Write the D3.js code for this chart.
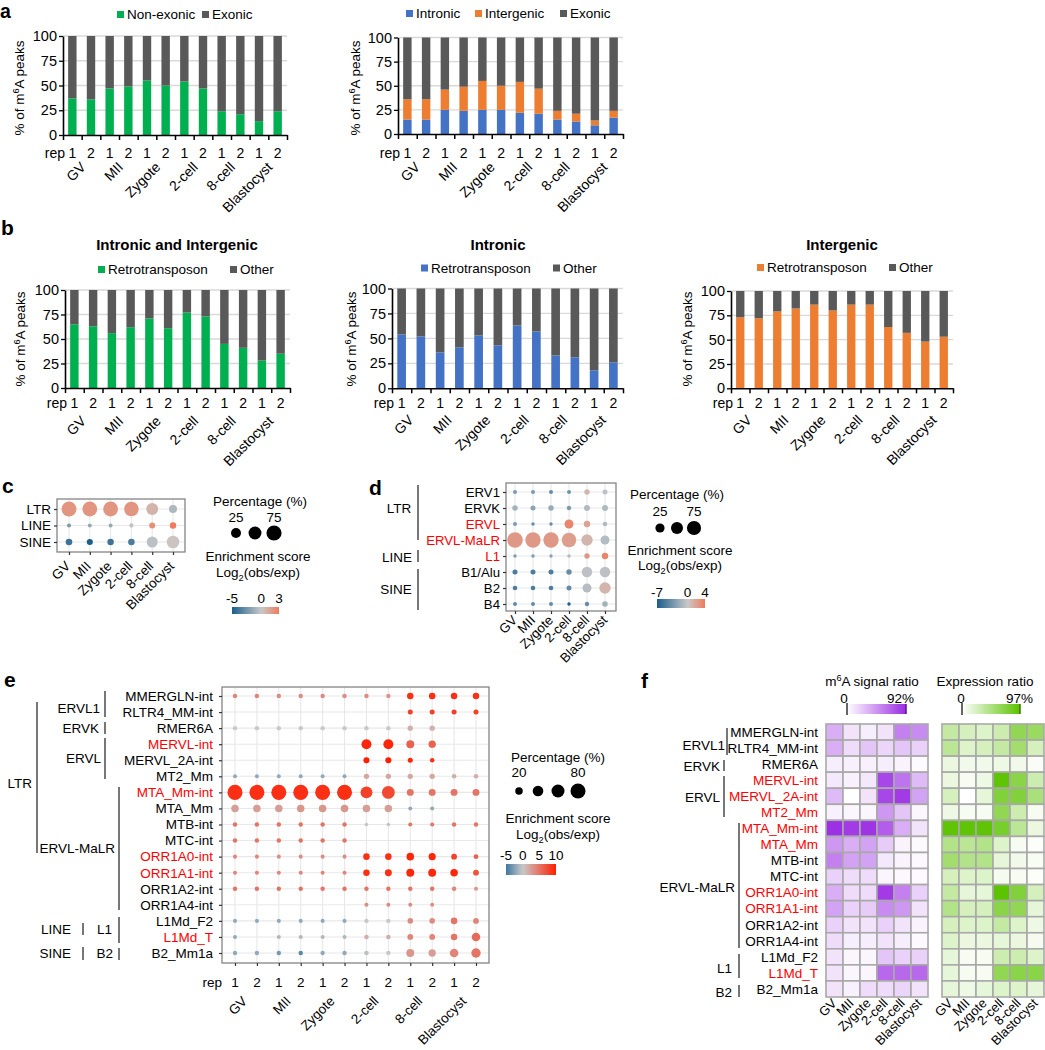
<!DOCTYPE html>
<html><head><meta charset="utf-8">
<script src="https://cdn.jsdelivr.net/npm/d3@7"></script>
<style>body{margin:0;background:#fff;} svg{display:block;}</style>
</head><body>
<svg id="chart" width="1045" height="1050"></svg>
<script>
// ---------------- DATA ----------------
const stages = ["GV","MII","Zygote","2-cell","8-cell","Blastocyst"];
const repLabels = ["1","2"];
const samples = stages.flatMap(s => repLabels.map(r => s + "_" + r));
const yTicks = [0,25,50,75,100];

// panel a
const aNonExonic = [37,36,47,49,55,50,54,47,24,21,14,24];
const aIntronic  = [15,15,25,24,25,25,22,21,15,13,9,17];
const aIntergenic= [21,21,21,25,30,25,32,26,9,8,5,7];
// panel b (retrotransposon %)
const bRetroAll        = [65,63,56,62,71,61,77,73,45,41,28,35];
const bRetroIntronic   = [54,52,36,41,53,43,63,57,33,31,18,26];
const bRetroIntergenic = [73,72,79,82,86,80,86,86,63,57,48,53];

// panel c
const cRows = ["LTR","LINE","SINE"];
const cPct = [[73,71,71,68,41,13],[0.5,0.5,0.5,0.8,4.6,6],[6.6,5,6,6.6,33,47]];
const cEnr = [[2,2,2,2,0.8,-0.8],[-2.2,-1.5,-1.5,-0.3,2.2,3],[-4,-5,-4,-3.6,-0.4,0.2]];

// panel d
const dRows = ["ERV1","ERVK","ERVL","ERVL-MaLR","L1","B1/Alu","B2","B4"];
const dRed = ["ERVL","ERVL-MaLR","L1"];
const dPct = [
  [1.4,1.4,1.4,1.4,4.9,3.7],
  [4.9,3.7,4.9,2.2,7,7],
  [1.4,0.5,0.5,23.5,8.7,2.6],
  [95,90,90,80,44,23.5],
  [0.5,0.5,0.5,0.8,4.9,8.7],
  [3.7,3.7,3.7,4.9,36,36],
  [2.6,2.6,2.6,3.7,23.5,44],
  [1.4,1.4,1.4,0.5,2.2,5.5]];
const dEnr = [
  [-3,-3,-4,-3.5,1,-0.5],
  [-1.5,-2.5,-2,-3,-1,-1],
  [-3,-4,-4,3.5,2,-1],
  [2.5,2.5,2.5,2.2,1,-0.8],
  [-3,-3,-2.5,-1,2.5,3.5],
  [-5,-5,-5,-4,-0.5,-0.5],
  [-5,-5,-5,-4,-0.8,1],
  [-4,-4,-4,-7,-4,-1.5]];

// panel e
const eRows = ["MMERGLN-int","RLTR4_MM-int","RMER6A","MERVL-int","MERVL_2A-int","MT2_Mm",
  "MTA_Mm-int","MTA_Mm","MTB-int","MTC-int","ORR1A0-int","ORR1A1-int","ORR1A2-int","ORR1A4-int",
  "L1Md_F2","L1Md_T","B2_Mm1a"];
const eRed = ["MERVL-int","MTA_Mm-int","ORR1A0-int","ORR1A1-int","L1Md_T"];
const N = null;
const ePct = [
  [7,7,7,7,7,7,7,7,15,15,15,15],
  [N,N,N,N,N,N,N,N,9,9,9,9],
  [7,7,7,7,7,7,7,7,10,10,N,N],
  [N,N,N,N,N,N,35,35,22,19,N,N],
  [N,N,N,N,N,N,13,13,9,7,N,N],
  [5.7,5.7,5.7,5.7,5.7,5.7,10,10,10,10,7.5,7.5],
  [80,80,80,80,80,80,50,58,17,17,17,17],
  [20,20,20,20,20,20,20,20,5.7,5.7,N,N],
  [7,7,7,7,7,7,4.6,4.6,6,6,7,7],
  [7,7,7,7,7,7,N,N,N,N,N,N],
  [5.7,5.7,5.7,5.7,5.7,5.7,15,15,20,18,12,8],
  [5.7,5.7,5.7,5.7,5.7,5.7,15,17,22,22,20,12],
  [7,7,7,7,7,7,7,7,7,7,7,6],
  [N,N,N,N,N,N,5.7,5.7,5.7,5.7,N,N],
  [5.7,5.7,5.7,5.7,5.7,5.7,6.9,6.9,11,11,15,12],
  [5.7,N,5.7,5.7,5.7,5.7,7.5,7.5,12,12,15,26],
  [6.9,6.9,6.9,6.9,6.9,6.9,7.5,7.5,22,19,26,31]];
const eEnr = [
  [4,4,3.5,3.5,3.5,3.5,3.5,3,9,9,9,9],
  [N,N,N,N,N,N,N,N,8,8,8,8],
  [0,0,0,0,0,0,0,0,1.5,1.5,N,N],
  [N,N,N,N,N,N,9.5,9.5,6,6,N,N],
  [N,N,N,N,N,N,10,10,9.5,9,N,N],
  [-2,-2,-2,-2,-2,-2,2,2,2,2,1.5,1.5],
  [9,9,9,9,9,9,8,7.5,5,5,5,5],
  [2.5,2.5,2.5,3,3,3,2.5,2.5,-2,-2,N,N],
  [5,5,5,5,5,5,0.5,0.5,5,5,5,5],
  [5,5,5,5,5,5,N,N,N,N,N,N],
  [4,4,3.5,3.5,3.5,3.5,9,9,9.5,9.5,8,6],
  [4,4,4,4,4,4,9,9,9.5,9.5,9.5,7],
  [5,5,5,5,5,5,5,5,5,5,4,3],
  [N,N,N,N,N,N,3.5,3.5,3.5,3.5,N,N],
  [-2,-2,-2,-2,-2,-2,0,0,3.5,3.5,5,4],
  [-2,N,-1,-1,-1,-1,1.5,1.5,4,4,5,5.5],
  [-2,-2,-3,-4,-2,-2,-0.5,0,3,2.5,4,5]];

// panel f
const fRows = eRows;
const fRed = ["MERVL-int","MERVL_2A-int","MT2_Mm","MTA_Mm-int","MTA_Mm","ORR1A0-int","ORR1A1-int","L1Md_T"];
const fSignal = [
  [35,12,8,12,55,50],[35,15,25,18,25,20],[8,6,6,8,5,2],[10,6,10,80,60,30],[30,0,12,80,85,40],
  [6,4,4,45,25,4],[90,85,88,70,35,12],[45,35,40,22,5,2],[55,40,40,10,5,3],[20,15,15,4,3,2],
  [35,15,15,85,55,20],[40,20,22,50,45,12],[20,12,12,20,12,5],[15,8,8,12,8,3],[12,4,4,25,20,20],
  [12,4,4,65,65,65],[12,6,15,15,18,12]];
const fExpr = [
  [35,25,20,30,65,60],[40,20,25,35,55,25],[12,8,8,10,8,3],[12,5,10,95,70,30],[25,0,15,75,75,50],
  [10,5,5,65,30,5],[95,95,95,80,40,12],[45,40,45,20,5,2],[55,45,45,15,8,4],[25,20,20,6,5,2],
  [35,15,15,97,75,25],[45,25,25,70,65,15],[25,20,20,35,20,10],[20,12,12,15,12,6],[15,5,5,30,30,20],
  [15,5,5,65,70,70],[15,10,15,20,20,15]];

// ---------------- DRAWING ----------------
const FONT = "'Liberation Sans', Arial, Helvetica, sans-serif";
const svg = d3.select("#chart").attr("font-family", FONT);
const GREEN = "#00b050", BLUE = "#4472c4", ORANGE = "#ed7d31", GRAY = "#595959";

function txt(g, x, y, s, o = {}) {
  const t = g.append("text").attr("x", x).attr("y", y).text(s)
    .attr("font-size", o.size || 13).attr("text-anchor", o.anchor || "start")
    .attr("fill", o.fill || "#000");
  if (o.weight) t.attr("font-weight", o.weight);
  if (o.transform) t.attr("transform", o.transform);
  return t;
}
function rich(g, x, y, parts, o = {}) {
  const size = o.size || 13;
  const t = g.append("text").attr("x", x).attr("y", y).attr("font-size", size)
    .attr("text-anchor", o.anchor || "start").attr("fill", "#000");
  if (o.transform) t.attr("transform", o.transform);
  let off = 0;
  parts.forEach(p => {
    if (typeof p === "string") {
      t.append("tspan").attr("dy", -off).text(p); off = 0;
    } else {
      const d = p.sup ? -size * 0.38 : size * 0.28;
      t.append("tspan").attr("dy", d - off).attr("font-size", size * 0.68).text(p.sup || p.sub);
      off = d;
    }
  });
  return t;
}
function bracket(g, x, y1, y2) {
  g.append("line").attr("x1", x).attr("x2", x).attr("y1", y1).attr("y2", y2)
    .attr("stroke", "#555").attr("stroke-width", 1.6);
}
const root = svg.append("g");

// panel letters
[["a",0,17.5,19.5],["b",1,235,21],["c",2,493,21],["d",369,495,21],["e",4,687,21],["f",641,688,21]].forEach(([l,x,y,s]) =>
  txt(root, x, y, l, {size: s, weight: "bold"}));

function legend(items, yc) {
  items.forEach(it => {
    root.append("rect").attr("x", it.x).attr("y", yc - 3.5).attr("width", 7).attr("height", 7).attr("fill", it.color);
    txt(root, it.x + 10, yc + 4.7, it.label, {size: 13.5});
  });
}

function barPanel(cfg) {
  const g = root.append("g");
  const x = d3.scaleBand().domain(samples).range([cfg.x0, cfg.x1]).paddingInner(0.55).paddingOuter(0.275);
  const y = d3.scaleLinear().domain([0, 100]).range([cfg.yb, cfg.yt]);
  g.selectAll("line.grid").data(yTicks.filter(d => d > 0)).join("line")
    .attr("x1", cfg.x0).attr("x2", cfg.x1).attr("y1", d => y(d)).attr("y2", d => y(d))
    .attr("stroke", "#d9d9d9").attr("stroke-width", 1.3);
  samples.forEach((s, i) => {
    let acc = 0;
    cfg.stacks.forEach(st => {
      const v = st.vals[i];
      g.append("rect").attr("x", x(s)).attr("width", x.bandwidth())
        .attr("y", y(acc + v)).attr("height", y(acc) - y(acc + v)).attr("fill", st.color);
      acc += v;
    });
    g.append("rect").attr("x", x(s)).attr("width", x.bandwidth())
      .attr("y", y(100)).attr("height", y(acc) - y(100)).attr("fill", GRAY);
  });
  const ya = g.append("g").attr("transform", `translate(${cfg.x0},0)`)
    .call(d3.axisLeft(y).tickValues(yTicks).tickSize(4).tickSizeOuter(0).tickPadding(2));
  ya.attr("font-family", FONT).attr("font-size", 14.5);
  ya.selectAll("line").attr("stroke", "#000").attr("stroke-width", 1.3);
  ya.select(".domain").attr("stroke", "#000").attr("stroke-width", 1.6);
  const xb = d3.scaleLinear().domain([0, 12]).range([cfg.x0, cfg.x1]);
  const xa = g.append("g").attr("transform", `translate(0,${cfg.yb})`)
    .call(d3.axisBottom(xb).tickValues(d3.range(13)).tickSize(5).tickSizeOuter(0).tickFormat(""));
  xa.selectAll("line").attr("stroke", "#000").attr("stroke-width", 1.5);
  xa.select(".domain").attr("stroke", "#000").attr("stroke-width", 1.6);
  samples.forEach((s, i) => txt(g, x(s) + x.bandwidth() / 2, cfg.repY, repLabels[i % 2], {size: 14, anchor: "middle"}));
  txt(g, cfg.x0 + 2, cfg.repY, "rep", {size: 14, anchor: "end"});
  stages.forEach((st, k) => {
    const c = (x(samples[2 * k]) + x(samples[2 * k + 1]) + x.bandwidth()) / 2 + cfg.catDx;
    txt(g, c, cfg.catY, st, {size: 14, anchor: "end", transform: `rotate(-45,${c},${cfg.catY})`});
  });
  rich(g, 0, 0, ["% of m", {sup: "6"}, "A peaks"], {size: 13.5, anchor: "middle",
    transform: `translate(${cfg.ytx},${cfg.ytc}) rotate(-90)`});
  if (cfg.title) txt(g, cfg.titleX, cfg.titleY, cfg.title, {size: 15, weight: "bold", anchor: "middle"});
}

// ---- panel a
barPanel({x0: 63, x1: 287, yt: 36, yb: 135, repY: 158, catY: 168, catDx: 5, ytx: 24, ytc: 88,
  stacks: [{vals: aNonExonic, color: GREEN}]});
legend([{x: 117, label: "Non-exonic", color: GREEN}, {x: 202, label: "Exonic", color: GRAY}], 14.5);
barPanel({x0: 398, x1: 623, yt: 37.5, yb: 134, repY: 158, catY: 168, catDx: 4, ytx: 360, ytc: 88,
  stacks: [{vals: aIntronic, color: BLUE}, {vals: aIntergenic, color: ORANGE}]});
legend([{x: 406, label: "Intronic", color: BLUE}, {x: 475, label: "Intergenic", color: ORANGE}, {x: 560, label: "Exonic", color: GRAY}], 13.5);

// ---- panel b
barPanel({x0: 65, x1: 290, yt: 290, yb: 388, repY: 408, catY: 422, catDx: 3, ytx: 25, ytc: 339,
  stacks: [{vals: bRetroAll, color: GREEN}], title: "Intronic and Intergenic", titleX: 177, titleY: 250});
legend([{x: 98, label: "Retrotransposon", color: GREEN}, {x: 230, label: "Other", color: GRAY}], 269.5);
barPanel({x0: 392, x1: 623, yt: 288.5, yb: 388.3, repY: 408, catY: 421, catDx: 3, ytx: 356, ytc: 339,
  stacks: [{vals: bRetroIntronic, color: BLUE}], title: "Intronic", titleX: 498, titleY: 250});
legend([{x: 421, label: "Retrotransposon", color: BLUE}, {x: 553, label: "Other", color: GRAY}], 268);
barPanel({x0: 731, x1: 953, yt: 291, yb: 388.3, repY: 408, catY: 421, catDx: 3, ytx: 692, ytc: 339,
  stacks: [{vals: bRetroIntergenic, color: ORANGE}], title: "Intergenic", titleX: 842, titleY: 250});
legend([{x: 757, label: "Retrotransposon", color: ORANGE}, {x: 889, label: "Other", color: GRAY}], 267.5);

// ---- dot panels
function dotPanel(cfg) {
  const g = root.append("g");
  const x = d3.scalePoint().domain(cfg.cols).range([cfg.cx0, cfg.cx1]);
  const y = d3.scalePoint().domain(cfg.rows).range([cfg.ry0, cfg.ry1]);
  const [bx0, by0, bx1, by1] = cfg.box;
  g.append("rect").attr("x", bx0).attr("y", by0).attr("width", bx1 - bx0).attr("height", by1 - by0).attr("fill", "#fff");
  g.append("g").selectAll("line").data(cfg.cols).join("line")
    .attr("x1", d => x(d)).attr("x2", d => x(d)).attr("y1", by0).attr("y2", by1)
    .attr("stroke", "#e8e8e8").attr("stroke-width", 1.1);
  g.append("g").selectAll("line").data(cfg.rows).join("line")
    .attr("y1", d => y(d)).attr("y2", d => y(d)).attr("x1", bx0).attr("x2", bx1)
    .attr("stroke", "#e8e8e8").attr("stroke-width", 1.1);
  const cells = [];
  cfg.rows.forEach((r, i) => cfg.cols.forEach((c, j) => {
    const p = cfg.pct[i][j];
    if (p == null) return;
    cells.push({r, c, p, e: cfg.enr[i][j]});
  }));
  g.append("g").selectAll("circle").data(cells).join("circle")
    .attr("cx", d => x(d.c)).attr("cy", d => y(d.r)).attr("r", d => cfg.rScale(d.p))
    .attr("fill", d => cfg.cScale(d.e));
  g.append("rect").attr("x", bx0).attr("y", by0).attr("width", bx1 - bx0).attr("height", by1 - by0)
    .attr("fill", "none").attr("stroke", "#858585").attr("stroke-width", 1.3);
  const ya = g.append("g").attr("transform", `translate(${bx0},0)`)
    .call(d3.axisLeft(y).tickSize(3).tickPadding(cfg.pad || 3));
  ya.select(".domain").remove();
  ya.attr("font-family", FONT).attr("font-size", cfg.fontSize);
  ya.selectAll("line").attr("stroke", "#333").attr("stroke-width", 1.2);
  ya.selectAll("text").attr("fill", d => (cfg.red || []).includes(d) ? "#ff0000" : "#000");
  const xa = g.append("g").attr("transform", `translate(0,${by1})`)
    .call(d3.axisBottom(x).tickSize(3).tickFormat(""));
  xa.select(".domain").remove();
  xa.selectAll("line").attr("stroke", "#333").attr("stroke-width", 1.2);
  return {g, x, y};
}
function rotLabels(g, xs, labels, dx, yy, size) {
  labels.forEach((l, i) => {
    const cx = xs[i] + dx;
    txt(g, cx, yy, l, {size, anchor: "end", transform: `rotate(-45,${cx},${yy})`});
  });
}
function colorBar(id, scale, domain, x0, x1, y0, h) {
  const grad = svg.append("defs").append("linearGradient").attr("id", id);
  const lo = domain[0], hi = domain[domain.length - 1];
  d3.range(0, 1.0001, 0.05).forEach(t => grad.append("stop").attr("offset", t).attr("stop-color", scale(lo + t * (hi - lo))));
  root.append("rect").attr("x", x0).attr("y", y0).attr("width", x1 - x0).attr("height", h).attr("fill", `url(#${id})`);
  return d3.scaleLinear().domain([lo, hi]).range([x0, x1]);
}
function sizeLegend(g, vals, xs, yc, rScale, labelVals, labelY, size) {
  vals.forEach((v, i) => g.append("circle").attr("cx", xs[i]).attr("cy", yc).attr("r", rScale(v)).attr("fill", "#000"));
  vals.forEach((v, i) => { if (labelVals.includes(v)) txt(g, xs[i], labelY, String(v), {size, anchor: "middle"}); });
}

// ---- panel c
const cColor = d3.scaleLinear().domain([-5, 0, 3]).range(["#1b5e8b", "#c9c9c9", "#ee7b5d"]);
const cR = d3.scaleSqrt().domain([0, 100]).range([1.5, 8.5]);
const pc = dotPanel({rows: cRows, cols: stages, cx0: 69, cx1: 173, ry0: 509, ry1: 542,
  box: [57, 499, 185, 552], pct: cPct, enr: cEnr, rScale: cR, cScale: cColor, fontSize: 13.5});
rotLabels(pc.g, stages.map(s => pc.x(s)), stages, 2, 567, 13.5);
txt(root, 260, 506, "Percentage (%)", {size: 13.5, anchor: "middle"});
sizeLegend(root, [25, 50, 75], [236, 255, 274], 533, cR, [25, 75], 522, 13.5);
txt(root, 258, 561, "Enrichment score", {size: 13.5, anchor: "middle"});
rich(root, 258, 577, ["Log", {sub: "2"}, "(obs/exp)"], {size: 13.5, anchor: "middle"});
const cbC = colorBar("gc", cColor, [-5, 3], 232, 279, 607, 7);
[-5, 0, 3].forEach(v => txt(root, cbC(v), 603, String(v), {size: 13.5, anchor: "middle"}));

// ---- panel d
const dColor = d3.scaleLinear().domain([-7, 0, 4]).range(["#1b5e8b", "#c9c9c9", "#ee7b5d"]);
const dR = d3.scaleSqrt().domain([0, 100]).range([1.2, 8]);
const pd = dotPanel({rows: dRows, cols: stages, cx0: 515, cx1: 605, ry0: 492, ry1: 604,
  box: [506, 483, 616, 611], pct: dPct, enr: dEnr, rScale: dR, cScale: dColor, fontSize: 13.2, red: dRed});
rotLabels(pd.g, stages.map(s => pd.x(s)), stages, 3, 621, 13.2);
txt(root, 399, 513, "LTR", {size: 13.5, anchor: "middle"});
txt(root, 397, 562, "LINE", {size: 13.5, anchor: "middle"});
txt(root, 396, 594, "SINE", {size: 13.5, anchor: "middle"});
bracket(root, 418, 485, 540); bracket(root, 418, 550, 562); bracket(root, 418, 569, 610);
txt(root, 677, 499, "Percentage (%)", {size: 13.5, anchor: "middle"});
sizeLegend(root, [25, 50, 75], [660, 677, 694], 528, dR, [25, 75], 516, 13.5);
txt(root, 680, 555, "Enrichment score", {size: 13.5, anchor: "middle"});
rich(root, 680, 570, ["Log", {sub: "2"}, "(obs/exp)"], {size: 13.5, anchor: "middle"});
const cbD = colorBar("gd", dColor, [-7, 4], 657, 705, 599, 9);
[-7, 0, 4].forEach(v => txt(root, cbD(v), 597, String(v), {size: 13.5, anchor: "middle"}));

// ---- panel e
const eColor = d3.scaleLinear().domain([-5, 0, 10]).range(["#3f78a0", "#c9c9c9", "#ff1e00"]);
const eR = d3.scaleSqrt().domain([0, 100]).range([0, 8.4]);
const pe = dotPanel({rows: eRows, cols: samples, cx0: 235, cx1: 476, ry0: 696, ry1: 953,
  box: [222, 687, 489, 963], pct: ePct, enr: eEnr, rScale: eR, cScale: eColor, fontSize: 13.5, red: eRed, pad: 6});
samples.forEach((s, i) => txt(pe.g, pe.x(s), 987, repLabels[i % 2], {size: 13.5, anchor: "middle"}));
txt(pe.g, 222, 987, "rep", {size: 13.5, anchor: "end"});
rotLabels(pe.g, stages.map((s, k) => (pe.x(samples[2 * k]) + pe.x(samples[2 * k + 1])) / 2), stages, 2, 1002, 13.5);
txt(root, 100, 713, "ERVL1", {size: 13.5, anchor: "end"});
txt(root, 99, 733, "ERVK", {size: 13.5, anchor: "end"});
txt(root, 101, 763, "ERVL", {size: 13.5, anchor: "end"});
txt(root, 32, 788, "LTR", {size: 13.5, anchor: "end"});
txt(root, 115, 853, "ERVL-MaLR", {size: 13.5, anchor: "end"});
txt(root, 71, 934, "LINE", {size: 13.5, anchor: "end"});
txt(root, 112, 934, "L1", {size: 13.5, anchor: "end"});
txt(root, 71, 958, "SINE", {size: 13.5, anchor: "end"});
txt(root, 113, 958, "B2", {size: 13.5, anchor: "end"});
bracket(root, 105, 691, 717); bracket(root, 105, 722, 734); bracket(root, 105, 738, 779);
bracket(root, 37, 702, 853); bracket(root, 119, 787, 910);
bracket(root, 83, 923, 935); bracket(root, 119, 917, 943);
bracket(root, 83, 947, 960); bracket(root, 119, 948, 960);
txt(root, 558, 762, "Percentage (%)", {size: 13.5, anchor: "middle"});
sizeLegend(root, [20, 40, 60, 80], [519, 538, 558, 578], 791, eR, [20, 80], 777, 13.5);
txt(root, 558, 823, "Enrichment score", {size: 13.5, anchor: "middle"});
rich(root, 558, 839, ["Log", {sub: "2"}, "(obs/exp)"], {size: 13.5, anchor: "middle"});
const cbE = colorBar("ge", eColor, [-5, 10], 506, 556, 864, 11);
[-5, 0, 5, 10].forEach(v => txt(root, cbE(v), 860, String(v), {size: 13.5, anchor: "middle"}));

// ---- panel f
function heatmap(x0, x1, vals, color) {
  const g = root.append("g");
  const x = d3.scaleBand().domain(stages).range([x0, x1]);
  const y = d3.scaleBand().domain(fRows).range([724, 997]);
  const cells = [];
  fRows.forEach((r, i) => stages.forEach((s, j) => cells.push({r, s, v: vals[i][j]})));
  g.selectAll("rect").data(cells).join("rect")
    .attr("x", d => x(d.s)).attr("y", d => y(d.r)).attr("width", x.bandwidth()).attr("height", y.bandwidth())
    .attr("fill", d => color(d.v)).attr("stroke", "#a9a9a9").attr("stroke-width", 1.6);
  rotLabels(g, stages.map(s => x(s) + x.bandwidth() / 2), stages, 3, 1004, 13);
  return {g, x, y};
}
const sigColor = d3.scaleLinear().domain([0, 92]).range(["#ffffff", "#9a2be3"]);
const expColor = d3.scaleLinear().domain([0, 97]).range(["#ffffff", "#5bc300"]);
const h1 = heatmap(826, 928, fSignal, sigColor);
heatmap(942, 1044, fExpr, expColor);
fRows.forEach(r => txt(root, 818, h1.y(r) + h1.y.bandwidth() / 2 + 4.8, r,
  {size: 13.5, anchor: "end", fill: fRed.includes(r) ? "#ff0000" : "#000"}));
txt(root, 725, 750, "ERVL1", {size: 13.5, anchor: "end"});
txt(root, 720, 771, "ERVK", {size: 13.5, anchor: "end"});
txt(root, 720, 802, "ERVL", {size: 13.5, anchor: "end"});
txt(root, 735, 892, "ERVL-MaLR", {size: 13.5, anchor: "end"});
txt(root, 732, 973, "L1", {size: 13.5, anchor: "end"});
txt(root, 732, 997, "B2", {size: 13.5, anchor: "end"});
bracket(root, 727, 728, 755); bracket(root, 724, 760, 771); bracket(root, 724, 776, 817);
bracket(root, 739, 823, 948); bracket(root, 739, 954, 978); bracket(root, 739, 985, 997);
rich(root, 872, 686, ["m", {sup: "6"}, "A signal ratio"], {size: 13.5, anchor: "middle"});
txt(root, 985, 686, "Expression ratio", {size: 13.5, anchor: "middle"});
colorBar("gf1", sigColor, [0, 92], 847, 906, 704, 10);
colorBar("gf2", expColor, [0, 97], 962, 1020, 704, 10);
[[847, 703, 715], [962, 703, 715]].forEach(([x, a, b]) =>
  root.append("line").attr("x1", x).attr("x2", x).attr("y1", a).attr("y2", b).attr("stroke", "#333").attr("stroke-width", 1.5));
root.append("line").attr("x1", 906).attr("x2", 906).attr("y1", 704).attr("y2", 714).attr("stroke", "#5a1590").attr("stroke-width", 1.5);
root.append("line").attr("x1", 1020).attr("x2", 1020).attr("y1", 704).attr("y2", 714).attr("stroke", "#3a7d00").attr("stroke-width", 1.5);
txt(root, 844, 703, "0", {size: 13.5, anchor: "middle"});
txt(root, 914, 703, "92%", {size: 13.5, anchor: "end"});
txt(root, 961, 703, "0", {size: 13.5, anchor: "middle"});
txt(root, 1033, 703, "97%", {size: 13.5, anchor: "end"});
</script>
</body></html>
